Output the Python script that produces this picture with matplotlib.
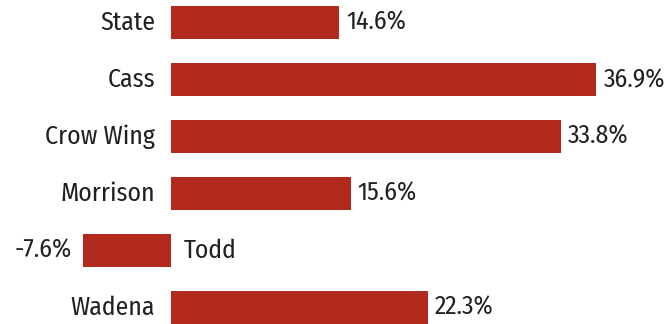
import matplotlib
matplotlib.use("Agg")
import matplotlib.pyplot as plt

categories = ["State", "Cass", "Crow Wing", "Morrison", "Todd", "Wadena"]
values = [14.6, 36.9, 33.8, 15.6, -7.6, 22.3]
value_labels = ["14.6%", "36.9%", "33.8%", "15.6%", "-7.6%", "22.3%"]

plt.rcParams["font.family"] = ["Fira Sans Condensed", "DejaVu Sans"]

fig = plt.figure(figsize=(6.7, 3.24), dpi=100)
ax = fig.add_axes([0, 0, 1, 1])

bar_color = "#B22A1D"
text_color = "#231F20"
fs = 18.5

pos = list(range(len(categories)))
ax.barh(pos, values, height=0.58, color=bar_color)

ax.set_xlim(-14.83, 43.28)
ax.set_ylim(5.289, -0.395)
ax.axis("off")

for y, v, cat, lab in zip(pos, values, categories, value_labels):
    if v >= 0:
        ax.annotate(cat, (0, y), xytext=(-11.5, 0), textcoords="offset points",
                    ha="right", va="center", fontsize=fs, color=text_color)
        ax.annotate(lab, (v, y), xytext=(5, 0), textcoords="offset points",
                    ha="left", va="center", fontsize=fs, color=text_color)
    else:
        ax.annotate(lab, (v, y), xytext=(-8, 0), textcoords="offset points",
                    ha="right", va="center", fontsize=fs, color=text_color)
        ax.annotate(cat, (0, y), xytext=(9, 0), textcoords="offset points",
                    ha="left", va="center", fontsize=fs, color=text_color)

fig.savefig("out.png", dpi=100)
